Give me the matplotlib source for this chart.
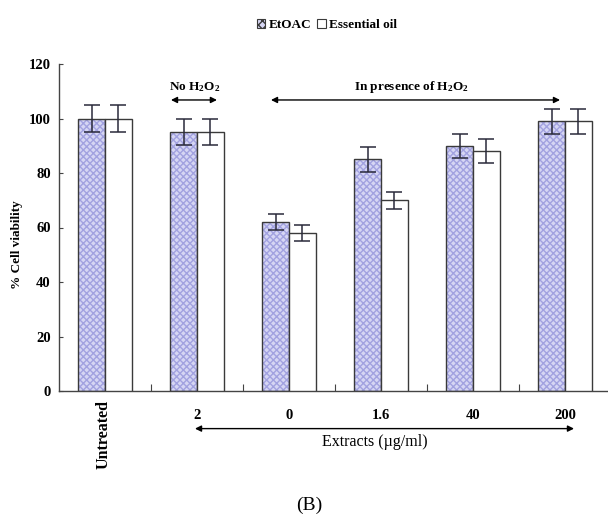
import numpy as np
import matplotlib
matplotlib.use('Agg')
import matplotlib.pyplot as plt
from matplotlib.patches import Patch

categories = ['Untreated', '2', '0', '1.6', '40', '200']
etoac = [100, 95, 62, 85, 90, 99]
etoac_err = [5, 4.8, 3, 4.5, 4.4, 4.6]
oil = [100, 95, 58, 70, 88, 99]
oil_err = [5, 4.8, 2.8, 3.2, 4.5, 4.6]

plt.rcParams['font.family'] = ['Liberation Serif', 'DejaVu Serif']
plt.rcParams['mathtext.default'] = 'regular'

fig = plt.figure(figsize=(6.08, 5.19), dpi=100)
# axes runs a bit past the right edge, like the cropped original
ax = fig.add_axes([59/608, 128/519, 552/608, 327/519])

x = np.arange(len(categories))
w = 0.29
fill = '#d6d6f4'
hatch_col = '#a2a2e0'
edge = '#3a3a3a'

# hatched fill first, then outline on top
ax.bar(x - w/2, etoac, w, color=fill, edgecolor=hatch_col, hatch='xxxxx', lw=0, zorder=2)
ax.bar(x - w/2, etoac, w, fill=False, edgecolor=edge, lw=1, zorder=3)
ax.bar(x + w/2, oil, w, color='white', edgecolor=edge, lw=1, zorder=3)

ax.errorbar(x - w/2, etoac, yerr=etoac_err, fmt='none', ecolor='#2a2a3a', elinewidth=1.1, capsize=5.5, capthick=1.1, zorder=4)
ax.errorbar(x + w/2, oil, yerr=oil_err, fmt='none', ecolor='#2a2a3a', elinewidth=1.1, capsize=5.5, capthick=1.1, zorder=4)

ax.set_xlim(-0.5, len(categories) - 0.5)
ax.set_ylim(0, 120)
ax.set_yticks(np.arange(0, 121, 20))
for s in ['top', 'right']:
    ax.spines[s].set_visible(False)
for s in ['left', 'bottom']:
    ax.spines[s].set_color('#444444')
    ax.spines[s].set_linewidth(1)

ax.tick_params(axis='y', direction='in', length=3, color='#444444', labelsize=10.5, pad=6)
for lab in ax.get_yticklabels():
    lab.set_fontweight('bold')

# small ticks between groups, labels at group centres
ax.set_xticks(x[:-1] + 0.5)
ax.set_xticklabels([])
ax.tick_params(axis='x', which='major', direction='in', length=5, color='#444444')
ax.set_xticks(x, minor=True)
ax.set_xticklabels([''] + categories[1:], minor=True, fontsize=10.5, fontweight='bold')
ax.tick_params(axis='x', which='minor', length=0, pad=13)
ax.text(x[0] - 0.02, -3.3, categories[0], rotation=90, ha='center', va='top',
        fontsize=11.5, fontweight='bold')

fig.text(17/608, 1 - 245/519, '% Cell viability', rotation=90, ha='center', va='center',
         fontsize=9.5, fontweight='bold')

arrow = dict(arrowstyle='<|-|>', lw=1, color='black', mutation_scale=9, shrinkA=0, shrinkB=0)
ax.annotate('', xy=(0.717, 106.8), xytext=(1.217, 106.8), arrowprops=arrow, annotation_clip=False)
ax.text(0.978, 111.6, 'No H$_2$O$_2$', ha='center', va='center', fontsize=9.5, fontweight='bold')
ax.annotate('', xy=(1.804, 106.8), xytext=(4.946, 106.8), arrowprops=arrow, annotation_clip=False)
ax.text(3.326, 111.6, 'In presence of H$_2$O$_2$', ha='center', va='center', fontsize=9.5, fontweight='bold')

ax.annotate('', xy=(0.978, -13.8), xytext=(5.098, -13.8), arrowprops=arrow, annotation_clip=False)
ax.text(2.935, -18.7, 'Extracts (\u00b5g/ml)', ha='center', va='center', fontsize=11.5, clip_on=False)

fig.text(309/608, 1 - 505/519, '(B)', ha='center', va='center', fontsize=14)

handles = [Patch(facecolor=fill, edgecolor=edge, hatch='xxxx', lw=0.8),
           Patch(facecolor='white', edgecolor=edge, lw=0.8)]
leg = fig.legend(handles, ['EtOAC', 'Essential oil'], loc='center', bbox_to_anchor=(327/608, 1 - 25/519),
                 ncol=2, frameon=False, handlelength=0.65, handleheight=0.65, handletextpad=0.3,
                 columnspacing=0.4, prop={'weight': 'bold', 'size': 9.5})

plt.savefig('out.png', dpi=100)
plt.close()
